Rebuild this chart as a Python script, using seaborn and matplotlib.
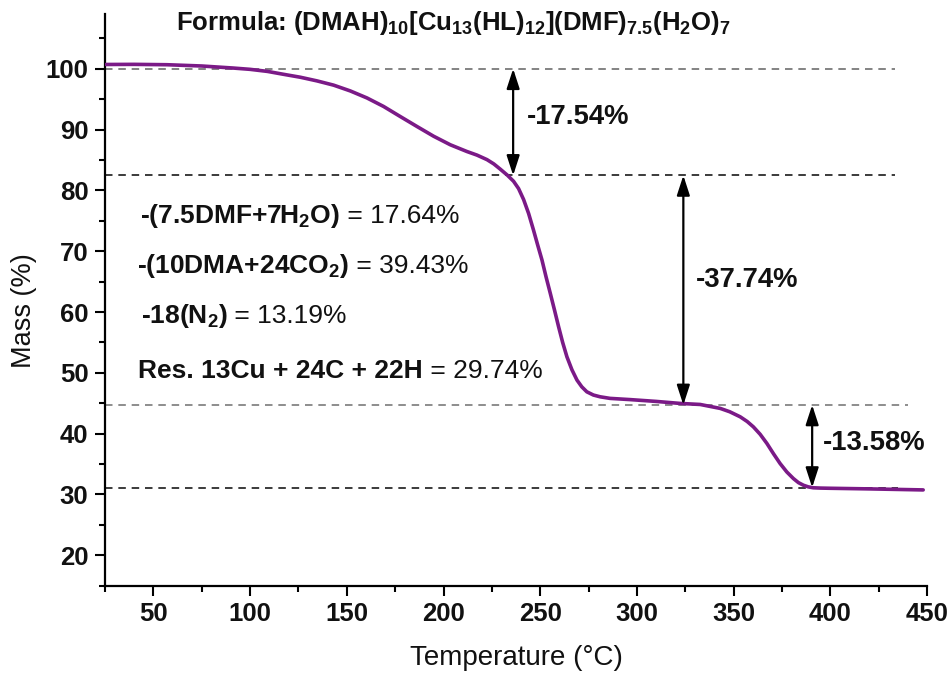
import numpy as np
import pandas as pd
import matplotlib
matplotlib.use("Agg")
import matplotlib.pyplot as plt
import seaborn as sns
from matplotlib.patches import ArrowStyle
from matplotlib.transforms import ScaledTranslation

# TGA trace of the copper cluster compound
temperature = [25.5, 40, 57, 75, 91, 100, 109, 117, 126, 134.6, 143.2, 151.8, 160.4,
               169.0, 177.6, 186.3, 194.9, 203.5, 212.1, 217.3, 222.5, 226.0, 229.3,
               233.0, 236.2, 238.8, 241.4, 244.0, 246.5, 248.7, 250.9, 253.0, 255.2,
               257.4, 259.5, 261.6, 263.8, 266.4, 269.0, 271.5, 274.1, 277.5, 281.0,
               286.1, 296.5, 310.0, 322.4, 332.7, 343.1, 348.0, 353.4, 357.0, 360.2,
               363.7, 367.2, 370.6, 374.0, 377.5, 380.9, 383.5, 386.1, 388.6, 391.2,
               395.0, 399.9, 420.0, 448.0]
mass = [100.70, 100.72, 100.66, 100.45, 100.12, 99.90, 99.56, 99.10, 98.60, 98.00, 97.30, 96.35, 95.20,
        93.80, 92.15, 90.50, 88.90, 87.50, 86.39, 85.80, 85.05, 84.35, 83.50,
        82.50, 81.50, 80.30, 78.50, 76.20, 73.50, 71.00, 68.56, 65.80, 63.08,
        60.30, 57.58, 55.00, 52.64, 50.50, 48.81, 47.70, 46.88, 46.35, 46.06,
        45.80, 45.60, 45.30, 44.97, 44.80, 44.15, 43.60, 42.77, 42.00, 41.12,
        39.90, 38.39, 36.70, 35.10, 33.70, 32.62, 31.95, 31.52, 31.25, 31.10,
        31.05, 31.02, 30.92, 30.75]

# measured mass-loss steps and where their arrows sit
start_level = 100.0
step_losses = [17.54, 37.74, 13.58]
arrow_temps = [236.0, 324.0, 390.6]
step_labels = ["-17.54%", "-37.74%", "-13.58%"]
step_label_pos = [(243.3, 92.1), (330.6, 65.3), (396.3, 38.4)]

guide_ends = [433.5, 433.5, 440.0, 435.0]
guide_colors = ["#6e6e6e", "#1a1a1a", "#7a7a7a", "#1a1a1a"]

# calculated decomposition fragments (bold formula part, plain value part)
calc_bold = ["-(7.5DMF+7H$_{\\mathbf{2}}$O)", "-(10DMA+24CO$_{\\mathbf{2}}$)",
             "-18(N$_{\\mathbf{2}}$)", "Res. 13Cu + 24C + 22H"]
calc_values = ["17.64%", "39.43%", "13.19%", "29.74%"]
calc_pos = [(43.3, 74.65), (41.3, 66.4), (43.5, 58.2), (42.3, 49.1)]

formula = (r"Formula: (DMAH)$_{\mathbf{10}}$[Cu$_{\mathbf{13}}$(HL)$_{\mathbf{12}}$]"
           r"(DMF)$_{\mathbf{7.5}}$(H$_{\mathbf{2}}$O)$_{\mathbf{7}}$")

x_ticks = [50, 100, 150, 200, 250, 300, 350, 400, 450]
y_ticks = [20, 30, 40, 50, 60, 70, 80, 90, 100]

sns.set_theme(style="ticks")
plt.rcParams["font.family"] = ["Liberation Sans", "DejaVu Sans"]
plt.rcParams["mathtext.fontset"] = "custom"
plt.rcParams["mathtext.rm"] = "Liberation Sans"
plt.rcParams["mathtext.it"] = "Liberation Sans:italic"
plt.rcParams["mathtext.bf"] = "Liberation Sans:bold"

curve_color = "#7b1a87"
ink = "#111111"

fig = plt.figure(figsize=(9.48, 6.73), dpi=100)
ax = fig.add_axes([0.1108, 0.1297, 0.8671, 0.8495])

df = pd.DataFrame({"Temperature": temperature, "Mass": mass})

levels = np.concatenate([[start_level], start_level - np.cumsum(step_losses)])

ax.hlines(levels, xmin=25, xmax=guide_ends, colors=guide_colors,
          linestyles=[(0, (4.5, 3.5))], linewidth=1.2, zorder=1)

sns.lineplot(data=df, x="Temperature", y="Mass", color=curve_color,
             linewidth=2.6, ax=ax, zorder=3)

arrow = ArrowStyle("<|-|>", head_length=0.8, head_width=0.26)
for t, hi, lo in zip(arrow_temps, levels[:-1], levels[1:]):
    ax.annotate("", xy=(t, lo), xytext=(t, hi),
                arrowprops=dict(arrowstyle=arrow, color="black", lw=1.6,
                                shrinkA=0, shrinkB=0, mutation_scale=15),
                zorder=4)

for lab, (tx, ty) in zip(step_labels, step_label_pos):
    ax.text(tx, ty, lab, fontsize=19.8, fontweight="bold", ha="left", va="center",
            color=ink)

calc_texts = []
for b, (tx, ty) in zip(calc_bold, calc_pos):
    calc_texts.append(ax.text(tx, ty, b, fontsize=19, fontweight="bold",
                              ha="left", va="baseline", color=ink))

ax.text(205, 106.3, formula, fontsize=18.5, fontweight="bold", ha="center",
        va="baseline", color=ink)

ax.set_xlim(25, 450)
ax.set_ylim(15, 109)
ax.set_xticks(x_ticks)
ax.set_yticks(y_ticks)
ax.set_xticks(np.arange(25, 451, 50), minor=True)
ax.set_yticks(np.arange(15, 110, 10), minor=True)

sns.despine(ax=ax)
for s in ["left", "bottom"]:
    ax.spines[s].set_linewidth(1.6)
    ax.spines[s].set_color("black")

ax.tick_params(axis="both", which="major", length=7, width=1.5, direction="out",
               labelsize=18.5, pad=5, color="black", labelcolor=ink)
ax.tick_params(axis="both", which="minor", length=4.5, width=1.5, direction="out",
               color="black")
plt.setp(ax.get_xticklabels() + ax.get_yticklabels(), fontweight="bold")

ax.set_xlabel("Temperature (\u00b0C)", fontsize=20, color=ink)
ax.set_ylabel("Mass (%)", fontsize=19.5, color=ink)
ax.xaxis.set_label_coords(0.5, -0.104)
ax.yaxis.set_label_coords(-0.083, 0.482)

# plain-weight values follow each bold fragment on the same baseline
fig.canvas.draw()
renderer = fig.canvas.get_renderer()
for t1, v, (tx, ty) in zip(calc_texts, calc_values, calc_pos):
    width_in = t1.get_window_extent(renderer).width / fig.dpi
    shift = ax.transData + ScaledTranslation(width_in, 0, fig.dpi_scale_trans)
    ax.text(tx, ty, " = " + v, transform=shift, fontsize=19, ha="left",
            va="baseline", color=ink)

fig.savefig("out.png", dpi=100)
